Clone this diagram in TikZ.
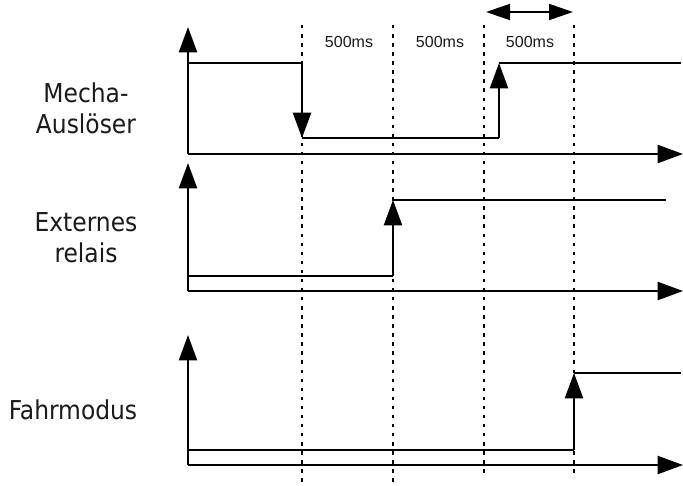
\documentclass[tikz,border=0pt]{standalone}
\usepackage{fontspec}
\setmainfont{DejaVu Sans Condensed}
\newfontfamily\msfont{Liberation Sans}
\usetikzlibrary{arrows.meta}
\definecolor{cInk}{HTML}{000000}
\definecolor{cText}{HTML}{1A1A1A}
\tikzset{
  tdaxis/.style={draw=cInk,line width=1.7pt,-{Triangle[length=19pt,width=13.5pt]}},
  tdlevel/.style={draw=cInk,line width=1.3pt},
  tdedge/.style={draw=cInk,line width=1.7pt,-{Triangle[length=19pt,width=13.5pt]}},
  tdgrid/.style={draw=cInk,line width=1.6pt,dash pattern=on 2.6pt off 4.2pt},
  tdspan/.style={draw=cInk,line width=1.4pt,
      {Triangle[length=18pt,width=12pt]}-{Triangle[length=18pt,width=12pt]}},
  tdlab/.style={font=\fontsize{19.5}{23}\selectfont,text=cText,align=center,inner sep=0pt},
  tdms/.style={font=\msfont\fontsize{12}{14}\selectfont,text=cText,inner sep=0pt},
}

\begin{document}
\begin{tikzpicture}[x=0.75pt,y=-0.75pt]
  \useasboundingbox (0,0) rectangle (683,486);

  % time marks
  \coordinate (t1a) at (302,25);  \coordinate (t1b) at (302,486);
  \coordinate (t2a) at (393,25);  \coordinate (t2b) at (393,486);
  \coordinate (t3a) at (484,25);  \coordinate (t3b) at (484,476);
  \coordinate (t4a) at (574,25);  \coordinate (t4b) at (574,476);
  \draw[tdgrid] (t1a) -- (t1b);
  \draw[tdgrid] (t2a) -- (t2b);
  \draw[tdgrid] (t3a) -- (t3b);
  \draw[tdgrid] (t4a) -- (t4b);

  \node[tdms] (ms1) at (349,42) {500ms};
  \node[tdms] (ms2) at (440,42) {500ms};
  \node[tdms] (ms3) at (530,42) {500ms};
  \coordinate (spanl) at (486,12);
  \coordinate (spanr) at (573,12);
  \draw[tdspan] (spanl) -- (spanr);

  % Mecha-Auslöser
  \node[tdlab] (mecha) at (86,108) {Mecha-\\Auslöser};
  \coordinate (o1) at (188,154);
  \coordinate (o1y) at (188,27);
  \coordinate (o1x) at (683,154);
  \draw[tdaxis] (o1) -- (o1y);
  \draw[tdaxis] (o1) -- (o1x);
  \coordinate (m0) at (188,63);
  \coordinate (m1) at (302,63);
  \coordinate (m2) at (302,138);
  \coordinate (m3) at (499,138);
  \coordinate (m4) at (499,63);
  \coordinate (m5) at (681,63);
  \draw[tdlevel] (m0) -- (m1);
  \draw[tdedge] (m1) -- (m2);
  \draw[tdlevel] (m2) -- (m3);
  \draw[tdedge] (m3) -- (m4);
  \draw[tdlevel] (m4) -- (m5);

  % Externes relais
  \node[tdlab] (relais) at (86,238) {Externes\\relais};
  \coordinate (o2) at (188,291);
  \coordinate (o2y) at (188,163);
  \coordinate (o2x) at (683,291);
  \draw[tdaxis] (o2) -- (o2y);
  \draw[tdaxis] (o2) -- (o2x);
  \coordinate (r0) at (188,276);
  \coordinate (r1) at (393,276);
  \coordinate (r2) at (393,200);
  \coordinate (r3) at (666,200);
  \draw[tdlevel] (r0) -- (r1);
  \draw[tdedge] (r1) -- (r2);
  \draw[tdlevel] (r2) -- (r3);

  % Fahrmodus
  \node[tdlab] (fahr) at (73,410) {Fahrmodus};
  \coordinate (o3) at (188,465);
  \coordinate (o3y) at (188,335);
  \coordinate (o3x) at (683,465);
  \draw[tdaxis] (o3) -- (o3y);
  \draw[tdaxis] (o3) -- (o3x);
  \coordinate (f0) at (188,450);
  \coordinate (f1) at (574,450);
  \coordinate (f2) at (574,373);
  \coordinate (f3) at (681,373);
  \draw[tdlevel] (f0) -- (f1);
  \draw[tdedge] (f1) -- (f2);
  \draw[tdlevel] (f2) -- (f3);
\end{tikzpicture}
\end{document}
